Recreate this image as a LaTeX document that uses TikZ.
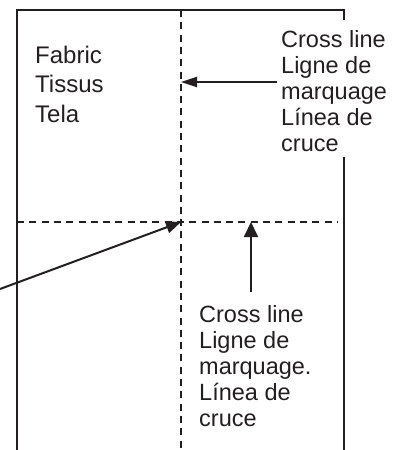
\documentclass[tikz,border=0pt]{standalone}
\usepackage{fontspec}
\setmainfont{Liberation Sans}
\usetikzlibrary{arrows.meta,positioning}
\definecolor{inkgray}{RGB}{35,31,32}
\tikzset{
  frm/.style={inkgray, line width=2pt},
  cutln/.style={inkgray, line width=1.9pt, dash pattern=on 7pt off 5.3pt},
  ptr/.style={-{Triangle[length=15pt, width=12pt]}, inkgray, line width=2pt},
  lbl/.style={anchor=north west, inner sep=0pt, align=left, text=inkgray,
              font=\fontsize{23.5}{26.2}\selectfont},
}

\begin{document}
\begin{tikzpicture}[x=1pt, y=-1pt]
   \useasboundingbox (0,0) rectangle (402,450);
   % fabric outline
   \draw[frm] (17,450) -- (17,10) -- (344,10) -- (344,20);
   \draw[frm] (344,157) -- (344,450);
   % cross lines
   \coordinate (vtop) at (181,10);
   \coordinate (vbot) at (181,450);
   \coordinate (hl) at (17,222);
   \coordinate (hr) at (337,222);
   \coordinate (cross) at (181,222);
   \draw[cutln] (vtop) -- (vbot);
   \draw[cutln] (hl) -- (hr);
   % labels
   \node[lbl, font=\fontsize{24}{29.5}\selectfont] (fab) at (35,45.5) {Fabric\\Tissus\\Tela};
   \node[lbl] (crossv) at (281,29.8) {Cross line\\Ligne de\\marquage\\Línea de\\cruce};
   \node[lbl] (crossh) at (199,304.8) {Cross line\\Ligne de\\marquage.\\Línea de\\cruce};
   % pointers
   \coordinate (p1s) at (277,82);
   \coordinate (p1e) at (181,82);
   \coordinate (p2s) at (251,292);
   \coordinate (p2e) at (251,222);
   \coordinate (p3s) at (0,289);
   \draw[ptr, -{Triangle[length=16pt, width=10pt]}] (p1s) -- (p1e);
   \draw[ptr, -{Triangle[length=15pt, width=14pt]}] (p2s) -- (p2e);
   \draw[ptr] (p3s) -- (cross);
\end{tikzpicture}
\end{document}
